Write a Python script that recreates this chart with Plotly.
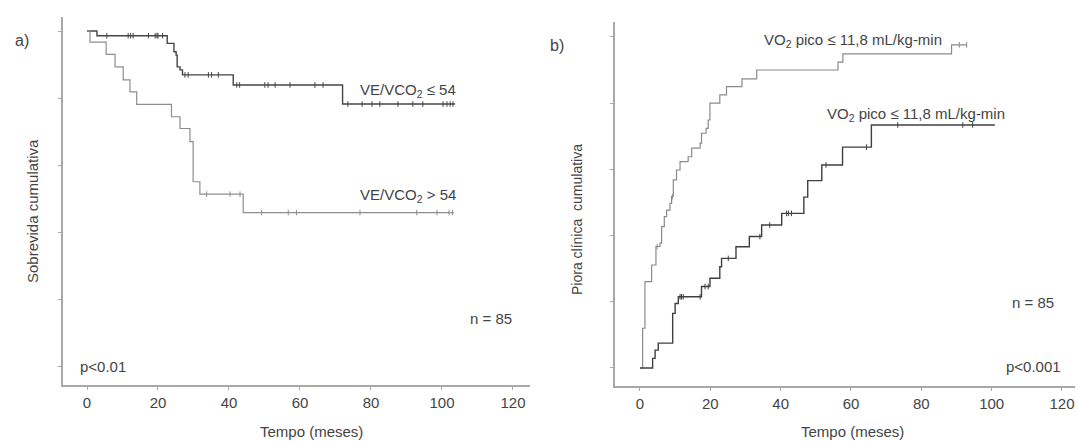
import numpy as np
import plotly.graph_objects as go

W, H = 1078, 441

# ---------------- Panel a data (Kaplan-Meier survival) ----------------
a_low_t = [0, 2.8, 22.6, 24.5, 25.1, 25.4, 26.2, 26.9, 41.2, 72.0, 103.7]
a_low_s = [1.0, 0.986, 0.963, 0.938, 0.928, 0.893, 0.884, 0.869, 0.839, 0.782, 0.782]
a_low_cens = [5.6, 11.6, 12.3, 13.0, 17.3, 19.2, 19.7, 20.0, 21.3, 27.6, 28.5, 34.2, 35.1,
              37.0, 42.2, 43.0, 50.1, 51.0, 53.0, 57.2, 64.2, 66.5, 73.5, 77.5, 80.3, 82.5,
              87.6, 91.8, 94.6, 100.3, 101.4, 102.3, 103.1]

a_high_t = [0, 0.85, 5.4, 7.9, 10.2, 12.1, 14.0, 23.8, 26.2, 29.0, 29.9, 31.8, 44.0, 103.3]
a_high_s = [1.0, 0.967, 0.93, 0.893, 0.854, 0.818, 0.781, 0.744, 0.709, 0.670, 0.550, 0.513, 0.458, 0.458]
a_high_cens = [33.7, 40.3, 43.1, 49.2, 56.7, 59.0, 76.9, 92.9, 98.6, 102.0, 103.0]

# ---------------- Panel b data (cumulative clinical worsening) ----------------
b_up_t = [0, 0.76, 1.42, 3.32, 4.55, 5.69, 6.16, 6.92, 7.58, 8.53, 9.0, 9.48, 10.4, 11.4,
          13.7, 14.7, 17.1, 17.5, 18.8, 19.4, 19.9, 22.7, 24.6, 29.0, 33.2, 56.3, 57.7, 88.6, 92.9]
b_up_y = [0, 0.120, 0.261, 0.311, 0.367, 0.377, 0.427, 0.457, 0.477, 0.497, 0.518, 0.568, 0.598,
          0.623, 0.638, 0.664, 0.679, 0.709, 0.724, 0.749, 0.800, 0.825, 0.850, 0.873, 0.900,
          0.924, 0.949, 0.976, 0.976]
b_up_cens = [4.9, 9.2, 90.8, 92.9]

b_low_t = [0, 3.6, 4.3, 5.2, 9.3, 10.0, 10.9, 17.5, 19.9, 22.7, 23.2, 27.3, 31.1, 34.6, 40.3,
           46.6, 47.7, 51.7, 57.6, 65.8, 100.9]
b_low_y = [0, 0.029, 0.054, 0.075, 0.165, 0.195, 0.215, 0.246, 0.271, 0.306, 0.331, 0.366,
           0.397, 0.432, 0.467, 0.516, 0.566, 0.613, 0.667, 0.734, 0.734]
b_low_cens = [11.4, 11.8, 12.3, 17.1, 18.5, 19.4, 25.1, 34.1, 36.9, 41.7, 42.2, 43.1, 52.9,
              64.4, 73.3, 91.8, 94.6]

x_ticks = [0, 20, 40, 60, 80, 100, 120]
y_ticks = [0, 0.2, 0.4, 0.6, 0.8, 1.0]

FONT = "Liberation Sans, Arial, sans-serif"
TXT = "#444444"
AX = "#a8a8a8"


def step_at(ts, ys, cs):
    ts = np.asarray(ts)
    ys = np.asarray(ys)
    idx = np.searchsorted(ts, np.asarray(cs), side="right") - 1
    return ys[idx]


fig = go.Figure()


def add_curve(t, y, cens, color, width, xa, ya):
    fig.add_trace(go.Scatter(x=t, y=y, mode="lines", line=dict(shape="hv", color=color, width=width),
                             xaxis=xa, yaxis=ya, showlegend=False, hoverinfo="skip"))
    fig.add_trace(go.Scatter(x=cens, y=step_at(t, y, cens), mode="markers",
                             marker=dict(symbol="line-ns", size=4, line=dict(color=color, width=1)),
                             xaxis=xa, yaxis=ya, showlegend=False, hoverinfo="skip"))


add_curve(a_low_t, a_low_s, a_low_cens, "#454545", 1.4, "x", "y")
add_curve(a_high_t, a_high_s, a_high_cens, "#8e8e8e", 1.2, "x", "y")
add_curve(b_up_t, b_up_y, b_up_cens, "#8a8a8a", 1.2, "x2", "y2")
add_curve(b_low_t, b_low_y, b_low_cens, "#404040", 1.4, "x2", "y2")


def px_x(p):
    return p / W


def px_y(p):
    return 1 - p / H


axis_common = dict(showline=True, linecolor=AX, linewidth=1.5, showgrid=False, zeroline=False,
                   ticks="outside", tickcolor=AX, ticklen=3, tickwidth=1.2)

fig.update_layout(
    width=W, height=H, margin=dict(l=0, r=0, t=0, b=0),
    paper_bgcolor="white", plot_bgcolor="white",
    font=dict(family=FONT, size=15, color=TXT),
    xaxis=dict(domain=[px_x(63), px_x(530)], range=[-6.76, 124.8], tickvals=x_ticks,
               anchor="y", **axis_common),
    yaxis=dict(domain=[px_y(385), px_y(17)], range=[-0.0567, 1.0418], tickvals=y_ticks,
               showticklabels=False, anchor="x", **axis_common),
    xaxis2=dict(domain=[px_x(615), px_x(1075)], range=[-7.1, 123.7], tickvals=x_ticks,
                anchor="y2", **axis_common),
    yaxis2=dict(domain=[px_y(386), px_y(22)], range=[-0.0544, 1.045], tickvals=y_ticks,
                showticklabels=False, anchor="x2", **axis_common),
)

ann = []


def text(s, x, y, xanchor="left", size=15, angle=0):
    ann.append(dict(text=s, x=px_x(x), y=px_y(y), xref="paper", yref="paper", showarrow=False,
                    xanchor=xanchor, yanchor="middle", textangle=angle,
                    font=dict(family=FONT, size=size, color=TXT)))


text("a)", 22, 40, "center", 16)
text("b)", 557, 45, "center", 16)
text("VE/VCO<sub>2</sub> ≤ 54", 358, 90)
text("VE/VCO<sub>2</sub> > 54", 358, 195)
text("n = 85", 468, 318)
text("p<0.01", 78, 366)
text("n = 85", 1010, 302)
text("p<0.001", 1004, 366)
text("VO<sub>2</sub> pico ≤ 11,8 mL/kg-min", 762, 40)
text("VO<sub>2</sub> pico ≤ 11,8 mL/kg-min", 825, 114)
text("Tempo (meses)", 311, 431, "center")
text("Tempo (meses)", 852, 431, "center")
text("Sobrevida cumulativa", 32, 211, "center", 15, -90)
text("Piora clínica  cumulativa", 577, 220, "center", 14, -90)

fig.update_layout(annotations=ann)

fig.write_html("out.html")
